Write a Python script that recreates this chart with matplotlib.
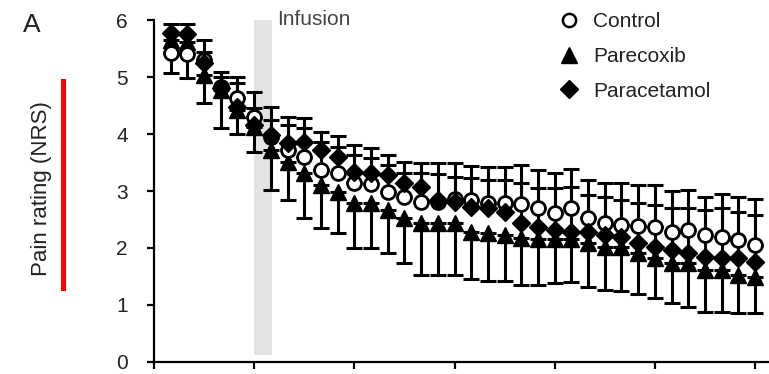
import matplotlib
matplotlib.use('Agg')
import matplotlib.pyplot as plt
from matplotlib.lines import Line2D

plt.rcParams['font.family'] = ['Liberation Sans', 'DejaVu Sans']

# minutes relative to start of infusion
time = [-25, -20, -15, -10, -5, 0, 5, 10, 15, 20, 25, 30,
        35, 40, 45, 50, 55, 60, 65, 70, 75, 80, 85, 90,
        95, 100, 105, 110, 115, 120, 125, 130, 135, 140, 145, 150]

control = [5.42, 5.40, 5.30, 4.82, 4.63, 4.30, 3.95, 3.72, 3.60, 3.37, 3.32, 3.14,
           3.12, 2.98, 2.90, 2.81, 2.80, 2.86, 2.84, 2.79, 2.79, 2.77, 2.70, 2.61,
           2.70, 2.52, 2.44, 2.40, 2.39, 2.37, 2.28, 2.32, 2.23, 2.19, 2.14, 2.05]
parecoxib = [5.65, 5.62, 5.03, 4.77, 4.42, 4.12, 3.72, 3.51, 3.32, 3.10, 2.98, 2.79,
             2.79, 2.67, 2.53, 2.44, 2.44, 2.44, 2.28, 2.26, 2.23, 2.18, 2.16, 2.16,
             2.16, 2.09, 2.02, 2.02, 1.91, 1.82, 1.74, 1.74, 1.61, 1.61, 1.53, 1.49]
paracetamol = [5.77, 5.75, 5.25, 4.80, 4.47, 4.15, 3.98, 3.84, 3.86, 3.72, 3.60, 3.33,
               3.32, 3.28, 3.14, 3.07, 2.84, 2.81, 2.72, 2.70, 2.63, 2.44, 2.37, 2.32,
               2.28, 2.28, 2.23, 2.20, 2.09, 2.02, 1.96, 1.91, 1.84, 1.82, 1.82, 1.75]

# one-sided error bars (SD)
control_err = [0.35, 0.35, 0.35, 0.27, 0.37, 0.44, 0.30, 0.44, 0.50, 0.49, 0.46, 0.49,
               0.46, 0.48, 0.42, 0.51, 0.69, 0.63, 0.60, 0.63, 0.63, 0.69, 0.67, 0.71,
               0.69, 0.67, 0.70, 0.74, 0.72, 0.74, 0.72, 0.70, 0.66, 0.76, 0.76, 0.81]
parecoxib_err = [0.58, 0.64, 0.49, 0.67, 0.42, 0.44, 0.70, 0.67, 0.79, 0.75, 0.72, 0.79,
                 0.79, 0.76, 0.79, 0.91, 0.91, 0.91, 0.82, 0.84, 0.81, 0.83, 0.81, 0.77,
                 0.76, 0.78, 0.76, 0.77, 0.72, 0.70, 0.70, 0.77, 0.73, 0.73, 0.67, 0.63]
paracetamol_err = [0.16, 0.18, 0.19, 0.20, 0.43, 0.30, 0.49, 0.46, 0.42, 0.32, 0.36, 0.47,
                   0.43, 0.35, 0.37, 0.42, 0.46, 0.44, 0.51, 0.49, 0.56, 0.70, 0.68, 0.73,
                   0.79, 0.65, 0.67, 0.64, 0.70, 0.73, 0.74, 0.79, 0.83, 0.88, 0.81, 0.83]

infusion = (0, 5)

fig = plt.figure(figsize=(7.69, 3.74), dpi=100)
ax = fig.add_axes([0.2003, 0.0321, 0.7997, 0.9144])

ax.axvspan(infusion[0] - 0.2, infusion[1] + 0.2, ymin=0.02, ymax=1.0, color='#e3e3e3', lw=0, zorder=0)

zeros = [0] * len(time)
eb = dict(fmt='none', ecolor='black', elinewidth=2.2, capsize=5.5, capthick=2.2, zorder=2)
ax.errorbar(time, control, yerr=[zeros, control_err], **eb)
ax.errorbar(time, parecoxib, yerr=[parecoxib_err, zeros], **eb)
ax.errorbar(time, paracetamol, yerr=[zeros, paracetamol_err], **eb)

ax.plot(time, parecoxib, ls='none', marker='^', ms=11, color='black', zorder=3)
ax.plot(time, control, ls='none', marker='o', ms=10, mfc='white', mec='black', mew=2, zorder=4)
ax.plot(time, paracetamol, ls='none', marker='D', ms=9, color='black', zorder=5)

ax.set_xlim(-30, 154.2)
ax.set_ylim(0, 6)
ax.set_yticks([0, 1, 2, 3, 4, 5, 6])
ax.set_xticks([-30, 0, 30, 60, 90, 120, 150])
ax.set_xticklabels([])
ax.spines['top'].set_visible(False)
ax.spines['right'].set_visible(False)
ax.spines['left'].set_linewidth(1.6)
ax.spines['bottom'].set_linewidth(1.6)
ax.tick_params(axis='both', direction='out', length=5, width=1.6, labelsize=15, pad=14, colors='black')
ax.tick_params(axis='y', labelcolor='#222222')

handles = [
    Line2D([], [], ls='none', marker='o', ms=9.5, mfc='white', mec='black', mew=1.8),
    Line2D([], [], ls='none', marker='^', ms=11, color='black'),
    Line2D([], [], ls='none', marker='D', ms=9, color='black'),
]
fig.legend(handles, ['Control', 'Parecoxib', 'Paracetamol'], loc='upper left',
           bbox_to_anchor=(0.727, 0.967), frameon=False, fontsize=15,
           handlelength=1.0, handletextpad=0.65, labelspacing=0.75, borderpad=0,
           borderaxespad=0, labelcolor='#222222')

fig.text(0.360, 0.949, 'Infusion', fontsize=15, color='#444444', va='center', ha='left')
fig.text(0.0546, 0.4947, 'Pain rating (NRS)', fontsize=16, rotation=90,
         va='center', ha='center', color='#222222')
fig.text(0.0416, 0.933, 'A', fontsize=19, va='center', ha='center', color='#222222')

# red marker bar beside the axis label
fig.add_artist(Line2D([0.0819, 0.0819], [0.23, 0.7834], color='red', lw=3.6,
                      transform=fig.transFigure))

plt.savefig('out.png', dpi=100)
plt.close()
